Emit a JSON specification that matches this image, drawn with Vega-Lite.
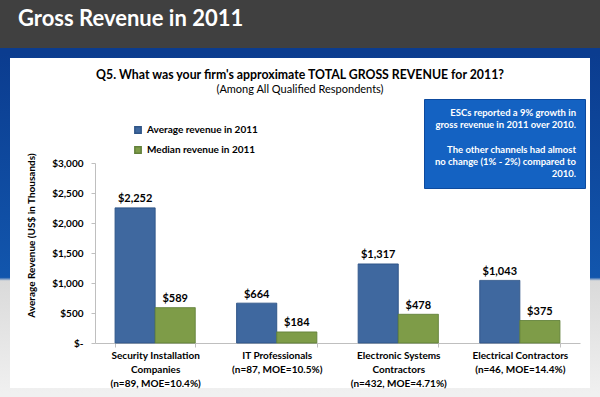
{
  "$schema": "https://vega.github.io/schema/vega-lite/v6.json",
  "background": "#404040",
  "padding": {"left": 0, "right": 0, "top": 8, "bottom": 0},
  "autosize": {"type": "pad"},
  "spacing": 0,
  "title": {"text": "Gross Revenue in 2011", "anchor": "start", "color": "white", "font": "Lato", "fontSize": 22, "fontWeight": "bold", "dx": 18, "offset": 17},
  "config": {
    "font": "Lato",
    "view": {
      "fill": "white",
      "strokeWidth": 10,
      "stroke": {"gradient": "linear", "x1": 0, "y1": 0, "x2": 0, "y2": 1,
        "stops": [
          {"offset": 0, "color": "#0b3c8f"},
          {"offset": 0.66, "color": "#1256ad"},
          {"offset": 0.67, "color": "#dadada"},
          {"offset": 1, "color": "#f0f0f0"}
        ]}
    }
  },
  "vconcat": [
    {
      "width": 590,
      "height": 340,
      "title": {"text": "Q5. What was your firm's approximate TOTAL GROSS REVENUE for 2011?", "subtitle": "(Among All Qualified Respondents)", "anchor": "middle", "frame": "group", "offset": -42, "font": "Lato", "fontSize": 12.3, "fontWeight": "bold", "color": "black", "subtitleFont": "Lato", "subtitleFontSize": 11, "subtitleColor": "black", "subtitlePadding": 3},
      "data": {"values": [
        {"segment": "Security Installation|Companies|(n=89, MOE=10.4%)", "measure": "Average revenue in 2011", "value": 2252},
        {"segment": "Security Installation|Companies|(n=89, MOE=10.4%)", "measure": "Median revenue in 2011", "value": 589},
        {"segment": "IT Professionals|(n=87, MOE=10.5%)", "measure": "Average revenue in 2011", "value": 664},
        {"segment": "IT Professionals|(n=87, MOE=10.5%)", "measure": "Median revenue in 2011", "value": 184},
        {"segment": "Electronic Systems|Contractors|(n=432, MOE=4.71%)", "measure": "Average revenue in 2011", "value": 1317},
        {"segment": "Electronic Systems|Contractors|(n=432, MOE=4.71%)", "measure": "Median revenue in 2011", "value": 478},
        {"segment": "Electrical Contractors|(n=46, MOE=14.4%)", "measure": "Average revenue in 2011", "value": 1043},
        {"segment": "Electrical Contractors|(n=46, MOE=14.4%)", "measure": "Median revenue in 2011", "value": 375}
      ]},
      "encoding": {
        "x": {"field": "segment", "type": "nominal", "sort": null, "title": null,
          "scale": {"range": [90, 575], "paddingInner": 0.34, "paddingOuter": 0.165},
          "axis": {"orient": "bottom", "offset": -50, "tickBand": "extent", "domainColor": "#bfbfbf", "tickColor": "#bfbfbf", "tickSize": 4, "labelExpr": "split(datum.label, '|')", "labelFontSize": 10, "labelFontWeight": "bold", "labelColor": "black", "labelLineHeight": 14, "labelPadding": 3, "labelAngle": 0, "labelLimit": 0}},
        "xOffset": {"field": "measure", "type": "nominal", "sort": null, "scale": {"paddingInner": 0, "paddingOuter": 0}},
        "y": {"field": "value", "type": "quantitative", "title": "Average Revenue (US$ in Thousands)",
          "scale": {"domain": [0, 3000], "range": [290, 110], "nice": false},
          "axis": {"orient": "left", "offset": -90, "values": [0, 500, 1000, 1500, 2000, 2500, 3000], "labelExpr": "datum.value == 0 ? '$-' : '$' + format(datum.value, ',')", "grid": false, "domainColor": "#bfbfbf", "tickColor": "#bfbfbf", "tickSize": 4, "labelFontSize": 10, "labelFontWeight": "bold", "labelColor": "black", "labelPadding": 8, "titleFontSize": 10, "titleFontWeight": "bold", "titleColor": "black", "titleX": -59, "titleY": 182}}
      },
      "layer": [
        {
          "mark": {"type": "bar", "strokeWidth": 1},
          "encoding": {
            "color": {"field": "measure", "type": "nominal", "sort": null, "scale": {"range": ["#3f689f", "#7e9c48"]},
              "legend": {"orient": "none", "legendX": 128, "legendY": 72, "title": null, "padding": 0, "symbolType": "square", "symbolSize": 40, "labelFontSize": 10, "labelFontWeight": "bold", "labelColor": "black", "rowPadding": 6, "labelOffset": 4}},
            "stroke": {"field": "measure", "type": "nominal", "sort": null, "scale": {"range": ["#2f5587", "#62803a"]}, "legend": null},
            "strokeDash": {"datum": "note",
              "legend": {"values": [], "orient": "none", "legendX": 419, "legendY": 46,
                "title": ["ESCs reported a 9% growth in", "gross revenue in 2011 over  2010.", "\u2800", "The other channels had almost", "no change (1% - 2%) compared to", "2010."],
                "titleAlign": "right", "titleAnchor": "start", "titleColor": "white", "titleFontSize": 9.5, "titleFontWeight": "bold", "titleLineHeight": 12.2, "titleLimit": 300, "titlePadding": 0,
                "fillColor": "#1462c2", "strokeColor": "#0d4a9e", "padding": 9}}
          }
        },
        {
          "mark": {"type": "text", "baseline": "alphabetic", "dy": -5.5, "fontSize": 11, "fontWeight": "bold", "color": "black"},
          "encoding": {
            "text": {"field": "value", "type": "quantitative", "format": "$,.0f"}
          }
        }
      ]
    }
  ]
}
